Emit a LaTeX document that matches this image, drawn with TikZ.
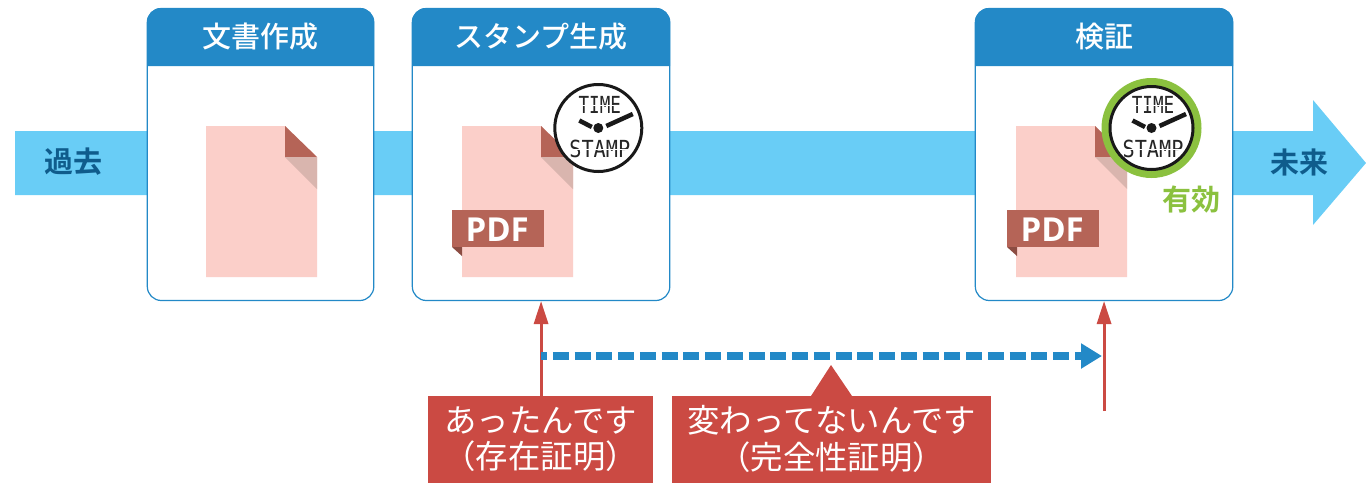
\documentclass[tikz,border=0pt]{standalone}
\usepackage{fontspec}
\usetikzlibrary{arrows.meta,calc}
\newfontfamily\jpr{Noto Sans CJK JP}
\newfontfamily\jpb{Noto Sans CJK JP Medium}
\newfontfamily\jpbb{Noto Sans CJK JP Bold}
\newfontfamily\lcd{DejaVu Sans Mono}
\newfontfamily\tagfont{Open Sans}
\definecolor{band}{HTML}{69CDF6}
\definecolor{head}{HTML}{2389C7}
\definecolor{dblue}{HTML}{0F5C8C}
\definecolor{docpink}{HTML}{FBCFC9}
\definecolor{foldred}{HTML}{B56457}
\definecolor{foldshadow}{HTML}{D9B5AE}
\definecolor{foldd}{HTML}{8C4C42}
\definecolor{rednote}{HTML}{CB4A43}
\definecolor{okgreen}{HTML}{8BC13F}
\tikzset{
  x=1pt,y=-1pt,
  cardbox/.style={draw=head,line width=1.2pt,fill=white,rounded corners=14pt,inner sep=0pt,outer sep=0pt,anchor=north west,minimum height=292pt},
  cardtitle/.style={text=white,font=\fontsize{29}{30}\jpb,inner sep=0pt,anchor=center},
  bandlabel/.style={text=dblue,font=\fontsize{29}{30}\jpbb,inner sep=0pt},
  notebox/.style={fill=rednote,text=white,inner sep=0pt,anchor=north west,minimum height=87pt,align=center,font=\fontsize{32.4}{37}\jpr},
  redarrow/.style={draw=rednote,line width=3pt,-{Triangle[width=14pt,length=23pt]}},
  pdftag/.style={fill=foldred,inner sep=0pt,minimum width=92pt,minimum height=37pt,anchor=north west},
  pdftext/.style={text=white,inner sep=0pt,font=\fontsize{33}{34}\tagfont\bfseries},
  lcdtext/.style={inner sep=0pt,text=black!85,font=\fontsize{23.5}{24}\lcd},
}
\newcommand{\docsheet}[1]{%
  \begin{scope}[xshift=#1]
    \fill[docpink] (0,0) -- (79,0) -- (111,31) -- (111,151) -- (0,151) -- cycle;
    \fill[foldred] (79,0) -- (79,31) -- (111,31) -- cycle;
    \fill[foldshadow] (79,31) -- (111,31) -- (111,63) -- cycle;
  \end{scope}}
\newcommand{\cardhead}[2]{%
  \fill[head] (#1,66) {[rounded corners=14pt] -- (#1,8) -- (#2,8)} -- (#2,66) -- cycle;}
\newcommand{\pdfribbon}[2]{%
  \fill[foldd] (#1,247) -- (#1+10,247) -- (#1+10,256) -- cycle;
  \node[pdftag] (#2) at (#1,210) {};
  \node[pdftext] (#2t) at ($(#2.center)+(-1,1)$) {PDF};}
\newcommand{\clockface}[3]{%
  \node[circle,draw=black!90,line width=3pt,fill=white,minimum size=#3pt,inner sep=0pt] (clk#1) at (#2,128) {};
  \node[lcdtext,xscale=.75] (clkA#1) at ($(clk#1.center)+(1.5,-23)$) {TIME};
  \node[lcdtext,xscale=.86] (clkB#1) at ($(clk#1.center)+(1.5,21)$) {STAMP};
  \draw[white,line width=.8pt] ($(clkA#1.center)+(-24,0)$) -- ($(clkA#1.center)+(24,0)$);
  \draw[white,line width=.8pt] ($(clkB#1.center)+(-32,0)$) -- ($(clkB#1.center)+(32,0)$);
  \draw[black!90,line width=4.5pt] ($(clk#1.center)+(8,-2)$) -- ($(clk#1.center)+(34.5,-14)$);
  \draw[black!90,line width=4.5pt] ($(clk#1.center)+(-19,-7.5)$) -- ($(clk#1.center)+(-6.5,-1)$);
  \fill[black!90] (clk#1.center) circle (5pt);}
\begin{document}
\begin{tikzpicture}
\useasboundingbox (0,0) rectangle (1366,483);
% timeline
\fill[band] (15,131) -- (1313,131) -- (1313,100) -- (1366,163) -- (1313,225) -- (1313,195) -- (15,195) -- cycle;
\node[bandlabel] (past) at (73,162) {過去};
\node[bandlabel] (future) at (1299,162) {未来};
% cards
\node[cardbox,minimum width=226.5pt] (card1) at (147.3,8.5) {};
\cardhead{147}{374}
\node[cardtitle] (title1) at (260.5,37) {文書作成};
\node[cardbox,minimum width=257.5pt] (card2) at (412.3,8.5) {};
\cardhead{412}{670}
\node[cardtitle] (title2) at (541,37) {スタンプ生成};
\node[cardbox,minimum width=257.5pt] (card3) at (975.3,8.5) {};
\cardhead{975}{1233}
\node[cardtitle] (title3) at (1104,37) {検証};
% documents
\begin{scope}[yshift=-126pt]
\docsheet{206pt}
\docsheet{462pt}
\docsheet{1016pt}
\end{scope}
\pdfribbon{452}{pdfA}
\pdfribbon{1007}{pdfB}
% clocks
\clockface{A}{598.3}{87}
\fill[okgreen] (1151.5,128) circle (50pt);
\clockface{B}{1151.5}{83}
\node[inner sep=0pt,text=okgreen,font=\fontsize{29}{30}\jpbb] (valid) at (1191,200) {有効};
% notes
\fill[rednote] (811,396) -- (831,365) -- (852,396) -- cycle;
\node[notebox,minimum width=225pt,text depth=2pt] (note1) at (428,396) {\raisebox{2pt}{あったんです}\\\raisebox{2.5pt}{（存在証明）}};
\node[notebox,minimum width=319pt,text depth=2pt] (note2) at (672,396) {\raisebox{2pt}{変わってないんです}\\\raisebox{2.5pt}{（完全性証明）}};
% arrows
\coordinate (v2end) at (1104,411);
\coordinate (dashstart) at (541,356);
\coordinate (dashend) at (1102,356);
\draw[redarrow,shorten >=.5pt,xshift=-.5pt] (card2.south |- note1.north) -- (card2.south);
\draw[redarrow,shorten >=.5pt] (card3.south |- v2end) -- (card3.south);
\draw[draw=head,line width=8pt,dash pattern=on 16pt off 5.75pt,dash phase=10pt,-{Triangle[width=24pt,length=21pt]}] (dashstart) -- (dashend);
\end{tikzpicture}
\end{document}
